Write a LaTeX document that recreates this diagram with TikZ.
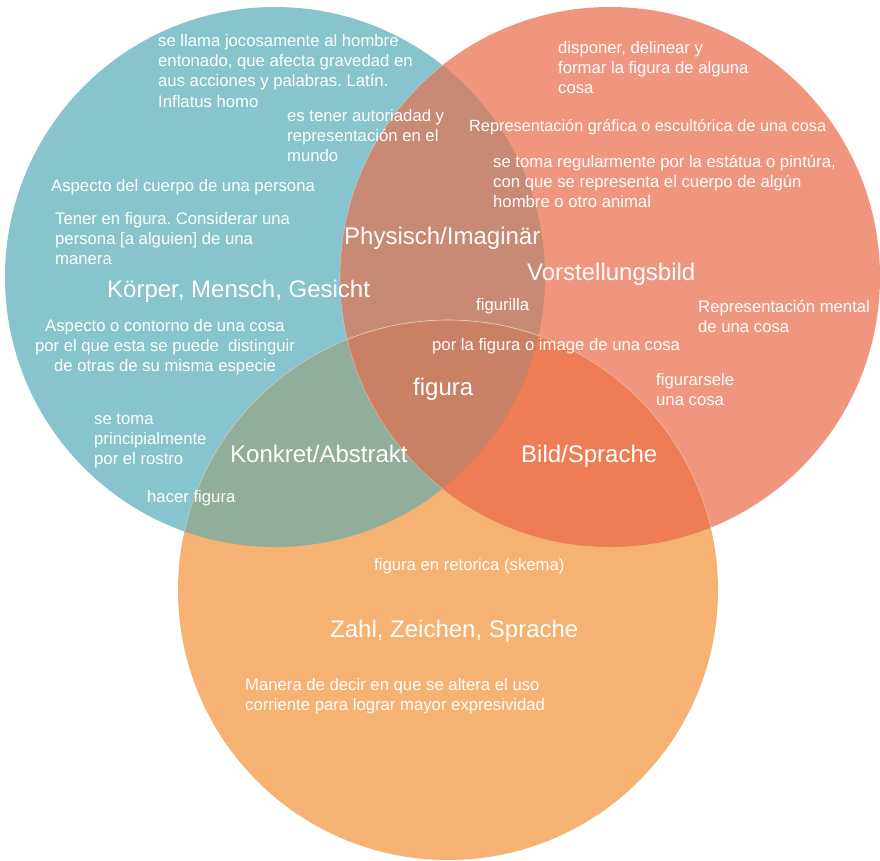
\documentclass[tikz,border=0pt]{standalone}
\usepackage{fontspec}
\setmainfont{Liberation Sans}
\usepackage{array}
\frenchspacing
\definecolor{cteal}{RGB}{136,196,205}
\definecolor{csalmon}{RGB}{240,150,126}
\definecolor{corange}{RGB}{245,178,115}
\definecolor{cts}{RGB}{200,137,117}
\definecolor{cto}{RGB}{145,174,155}
\definecolor{cso}{RGB}{238,125,86}
\definecolor{call}{RGB}{201,128,100}
\newcommand\tleft[1]{\begin{tabular}[t]{@{}l@{}}#1\end{tabular}}
\newcommand\tcent[1]{\begin{tabular}[t]{@{}c@{}}#1\end{tabular}}
\tikzset{
  small/.style={text=white, inner sep=0pt, anchor=base west,
    font=\fontsize{16.7bp}{20.4bp}\selectfont\frenchspacing},
  smaller/.style={small, font=\fontsize{16.3bp}{20.4bp}\selectfont\frenchspacing},
  big/.style={text=white, inner sep=0pt, anchor=base west,
    font=\fontsize{24bp}{28bp}\selectfont},
  edge/.style={draw=white, draw opacity=0.35, line width=0.6bp}
}
\begin{document}
\begin{tikzpicture}[x=1bp,y=-1bp]
\useasboundingbox (0,0) rectangle (880,861);
\coordinate (A) at (275,277);
\coordinate (B) at (610,277);
\coordinate (C) at (448,590);
% base circles
\fill[cteal] (A) circle (270bp);
\fill[csalmon] (B) circle (270bp);
\fill[corange] (C) circle (270bp);
% pairwise overlaps
\begin{scope}
  \clip (A) circle (270bp);
  \fill[cts] (B) circle (270bp);
  \fill[cto] (C) circle (270bp);
\end{scope}
\begin{scope}
  \clip (B) circle (270bp);
  \fill[cso] (C) circle (270bp);
\end{scope}
\begin{scope}
  \clip (A) circle (270bp);
  \clip (B) circle (270bp);
  \fill[call] (C) circle (270bp);
\end{scope}
% faint boundaries inside overlaps
\begin{scope}
  \clip (A) circle (270bp);
  \draw[edge] (B) circle (270bp);
  \draw[edge] (C) circle (270bp);
\end{scope}
\begin{scope}
  \clip (B) circle (270bp);
  \draw[edge] (C) circle (270bp);
\end{scope}

% texts, teal circle
\node[small] (t1) at (158,46) {\tleft{se llama jocosamente al hombre\\entonado, que afecta gravedad en\\aus acciones y palabras. Latín.\\Inflatus homo}};
\node[small] (t2) at (287,121) {\tleft{es tener autoriadad y\\representación en el\\mundo}};
\node[small] (t3) at (51,191) {Aspecto del cuerpo de una persona};
\node[small] (t4) at (55,224) {\tleft{Tener en figura. Considerar una\\persona [a alguien] de una\\manera}};
\node[big] (l1) at (107,297) {Körper, Mensch, Gesicht};
\node[small, anchor=base] (t5) at (165,331) {\tcent{Aspecto o contorno de una cosa\\por el que esta se puede\ \ distinguir\\de otras de su misma especie}};
\node[small] (t6) at (94,424) {\tleft{se toma\\principialmente\\por el rostro}};
\node[big] (l2) at (230,462) {Konkret/Abstrakt};
\node[small] (t7) at (147,502) {hacer figura};

% texts, salmon circle
\node[small] (t8) at (558,53) {\tleft{disponer, delinear y\\formar la figura de alguna\\cosa}};
\node[smaller] (t9) at (469,131) {Representación gráfica o escultórica de una cosa};
\node[small] (t10) at (493,167) {\tleft{se toma regularmente por la estátua o pintúra,\\con que se representa el cuerpo de algún\\hombre o otro animal}};
\node[big] (l3) at (344,244) {Physisch/Imaginär};
\node[big] (l4) at (527,280) {Vorstellungsbild};
\node[small] (t11) at (476,310) {figurilla};
\node[small] (t12) at (698,312) {\tleft{Representación mental\\de una cosa}};
\node[small] (t13) at (432,350) {por la figura o image de una cosa};
\node[big] (l5) at (413,395) {figura};
\node[small] (t14) at (656,385) {\tleft{figurarsele\\una cosa}};
\node[big] (l6) at (521,462) {Bild/Sprache};

% texts, orange circle
\node[small] (t15) at (374,570) {figura en retorica (skema)};
\node[big] (l7) at (330,637) {Zahl, Zeichen, Sprache};
\node[small] (t16) at (245,690) {\tleft{Manera de decir en que se altera el uso\\corriente para lograr mayor expresividad}};
\end{tikzpicture}
\end{document}
